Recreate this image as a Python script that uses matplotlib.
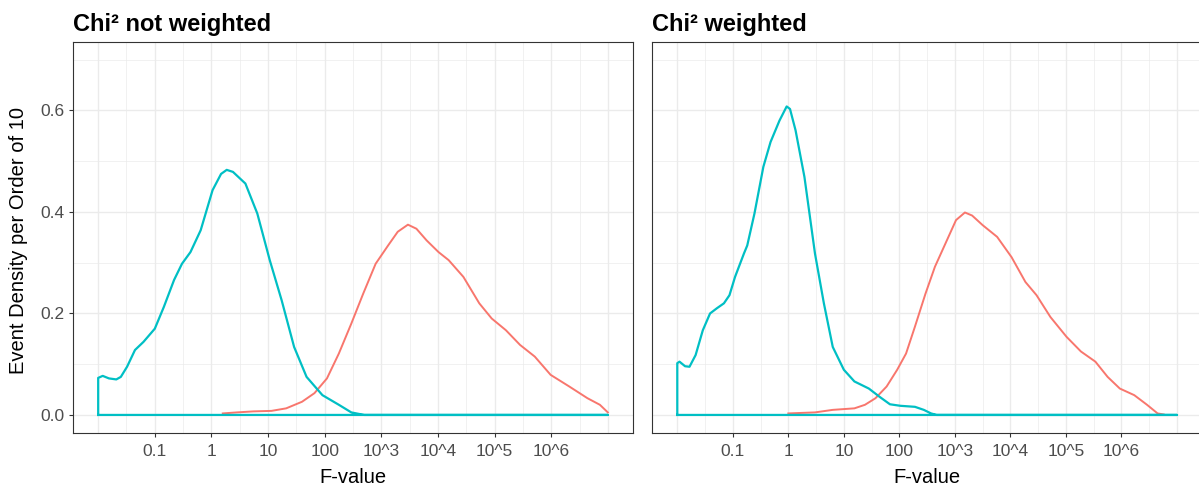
import numpy as np
import matplotlib
matplotlib.use("Agg")
from matplotlib import pyplot as plt

plt.rcParams['font.family'] = ['Liberation Sans', 'DejaVu Sans']

red = "#F8766D"
cyan = "#00BFC4"
grid_col = "#EBEBEB"

titles = ["Chi² not weighted", "Chi² weighted"]
tick_vals = [0.1, 1, 10, 100, 1e3, 1e4, 1e5, 1e6]
tick_labels = ["0.1", "1", "10", "100", "10^3", "10^4", "10^5", "10^6"]

# exponents (log10 of F-value) and densities
# panel 1: not weighted
cyan1_exp = [-2.0, -2.0, -1.92, -1.81, -1.68, -1.60, -1.49, -1.35, -1.20, -1.0, -0.84, -0.66,
             -0.52, -0.37, -0.19, 0.02, 0.17, 0.27, 0.38, 0.60, 0.81, 1.03, 1.24, 1.46,
             1.68, 1.96, 2.25, 2.47, 2.65, 2.70, 7.0, -2.0]
cyan1_y = [0.0, 0.073, 0.077, 0.072, 0.070, 0.075, 0.095, 0.128, 0.144, 0.170, 0.213, 0.266,
           0.298, 0.321, 0.364, 0.443, 0.475, 0.483, 0.479, 0.456, 0.397, 0.305, 0.226, 0.134,
           0.075, 0.039, 0.020, 0.005, 0.001, 0.0, 0.0, 0.0]
red1_exp = [0.20, 0.45, 0.74, 1.06, 1.32, 1.60, 1.82, 2.04, 2.25, 2.47, 2.68, 2.90, 3.12,
            3.29, 3.47, 3.62, 3.80, 4.01, 4.19, 4.45, 4.73, 4.95, 5.20, 5.45, 5.71, 5.99,
            6.32, 6.64, 6.86, 7.0]
red1_y = [0.003, 0.005, 0.007, 0.008, 0.013, 0.026, 0.043, 0.072, 0.121, 0.180, 0.239, 0.298,
          0.334, 0.361, 0.375, 0.367, 0.344, 0.321, 0.305, 0.272, 0.220, 0.190, 0.167, 0.138,
          0.115, 0.079, 0.056, 0.033, 0.020, 0.005]

# panel 2: weighted
cyan2_exp = [-2.0, -2.0, -1.96, -1.86, -1.78, -1.67, -1.54, -1.41, -1.29, -1.16, -1.06, -0.96,
             -0.80, -0.74, -0.61, -0.45, -0.32, -0.16, -0.03, 0.03, 0.13, 0.29, 0.48, 0.64,
             0.80, 1.0, 1.19, 1.45, 1.64, 1.83, 2.02, 2.28, 2.44, 2.57, 2.67, 7.0, -2.0]
cyan2_y = [0.0, 0.102, 0.105, 0.096, 0.095, 0.118, 0.167, 0.200, 0.210, 0.220, 0.236, 0.272,
           0.318, 0.334, 0.397, 0.489, 0.538, 0.580, 0.608, 0.603, 0.561, 0.469, 0.318, 0.220,
           0.134, 0.089, 0.066, 0.052, 0.036, 0.021, 0.018, 0.016, 0.010, 0.003, 0.0, 0.0, 0.0]
red2_exp = [0.0, 0.48, 0.80, 1.19, 1.38, 1.57, 1.77, 1.96, 2.12, 2.28, 2.47, 2.64, 2.83, 3.02,
            3.18, 3.31, 3.50, 3.76, 4.02, 4.27, 4.47, 4.72, 5.01, 5.27, 5.53, 5.75, 5.97,
            6.23, 6.46, 6.65, 6.76]
red2_y = [0.003, 0.005, 0.010, 0.013, 0.020, 0.033, 0.056, 0.089, 0.121, 0.174, 0.239, 0.292,
          0.338, 0.384, 0.399, 0.393, 0.374, 0.351, 0.311, 0.262, 0.236, 0.193, 0.154, 0.125,
          0.105, 0.075, 0.052, 0.039, 0.020, 0.003, 0.001]

panels = [(cyan1_exp, cyan1_y, red1_exp, red1_y), (cyan2_exp, cyan2_y, red2_exp, red2_y)]

W, H = 1199, 486
fig = plt.figure(figsize=(W / 100, H / 100), dpi=100)

boxes = [(72.7, 633.3), (652.3, 1202.0)]
top_px, bot_px = 42.0, 432.7

for i, (cx, cy, rx, ry) in enumerate(panels):
    l, r = boxes[i]
    ax = fig.add_axes([l / W, 1 - bot_px / H, (r - l) / W, (bot_px - top_px) / H])
    ax.set_xscale("log")
    ax.set_xlim(10 ** -2.45, 10 ** 7.45)
    ax.set_ylim(-0.035, 0.735)

    # grid (major every decade, minor half decade)
    for e in np.arange(-2, 7.01, 1):
        ax.axvline(10 ** e, color=grid_col, lw=1.0, zorder=0)
    for e in np.arange(-1.5, 7.01, 1):
        ax.axvline(10 ** e, color=grid_col, lw=0.5, zorder=0)
    for yv in [0, 0.2, 0.4, 0.6]:
        ax.axhline(yv, color=grid_col, lw=1.0, zorder=0)
    for yv in [0.1, 0.3, 0.5, 0.7]:
        ax.axhline(yv, color=grid_col, lw=0.5, zorder=0)

    ax.plot(10 ** np.array(rx), ry, color=red, lw=1.4, zorder=2)
    ax.plot(10 ** np.array(cx), cy, color=cyan, lw=1.6, zorder=3)

    ax.xaxis.set_major_locator(matplotlib.ticker.FixedLocator(tick_vals))
    ax.xaxis.set_major_formatter(matplotlib.ticker.FixedFormatter(tick_labels))
    ax.xaxis.set_minor_locator(matplotlib.ticker.NullLocator())
    ax.set_yticks([0, 0.2, 0.4, 0.6])
    ax.set_yticklabels(["0.0", "0.2", "0.4", "0.6"])
    ax.tick_params(axis="both", colors="#333333", length=3, width=0.8,
                   labelsize=12.5, labelcolor="#4D4D4D", pad=3)
    ax.tick_params(axis="x", pad=5)
    if i == 1:
        ax.tick_params(axis="y", left=False, labelleft=False)
    for s in ax.spines.values():
        s.set_color("#333333")
        s.set_linewidth(0.8)
    if i == 1:
        ax.spines["right"].set_visible(False)

    fig.text(l / W, 1 - 31.5 / H, titles[i], fontsize=17, fontweight="bold",
             color="black", ha="left", va="baseline")
    fig.text((l + r) / 2 / W, 1 - 483 / H, "F-value", fontsize=14.5,
             color="black", ha="center", va="baseline")

fig.text(19 / W, 1 - 240 / H, "Event Density per Order of 10", fontsize=14.5,
         rotation=90, ha="center", va="center", color="black")

fig.savefig("out.png", dpi=100)
